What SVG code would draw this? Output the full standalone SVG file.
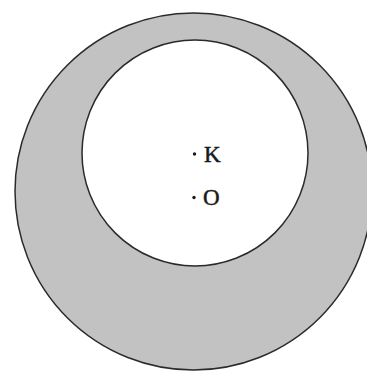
<svg xmlns="http://www.w3.org/2000/svg" width="367" height="372" viewBox="0 0 367 372">
<style>
.c{stroke:#2a2a2a;stroke-width:1.5}
.t{font-family:"Liberation Serif",serif;font-size:23px;fill:#1a1a1a;stroke:#1a1a1a;stroke-width:0.5}
</style>
<rect width="367" height="372" fill="#fff"/>
<g id="outer"><circle class="c" cx="193.5" cy="191.5" r="178.5" fill="#c2c2c2"/></g>
<g id="inner"><circle class="c" cx="195" cy="153" r="113" fill="#fff"/></g>
<g id="K"><circle cx="194.5" cy="154" r="1.7" fill="#1a1a1a"/><text class="t" x="204" y="162">K</text></g>
<g id="O"><circle cx="194" cy="197.5" r="1.7" fill="#1a1a1a"/><text class="t" x="203" y="204.5">O</text></g>
</svg>
